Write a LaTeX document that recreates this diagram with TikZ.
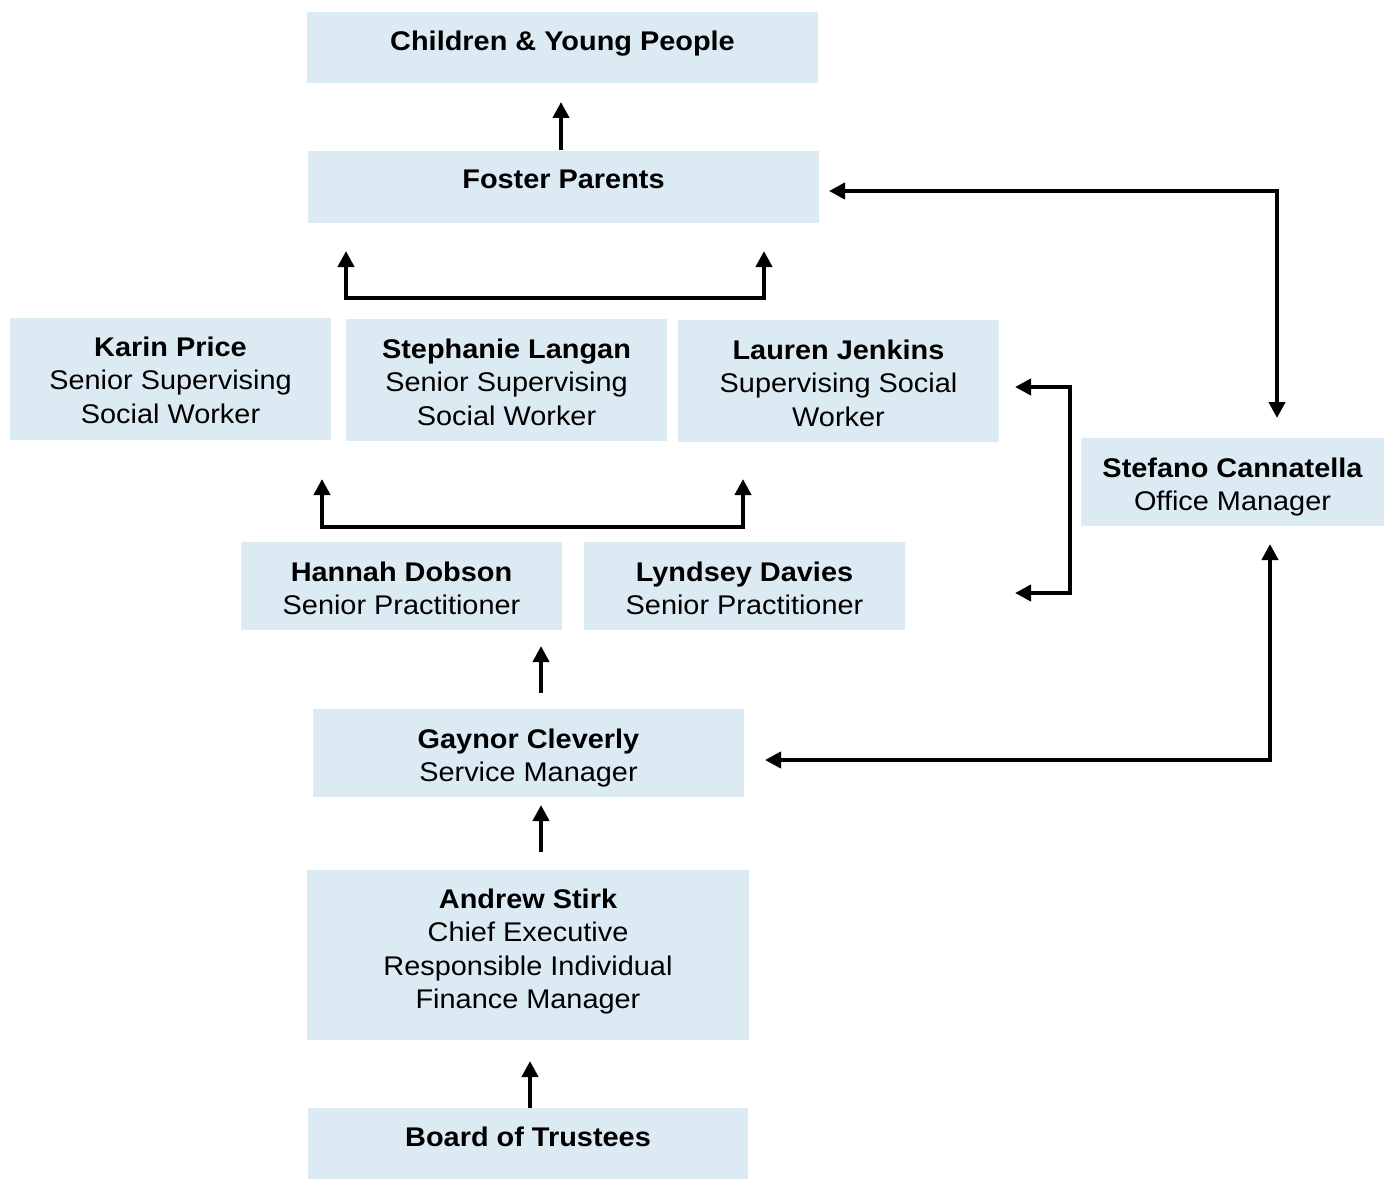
\documentclass[tikz,border=0pt]{standalone}
\usepackage{fontspec}
\setmainfont[FakeStretch=1.07]{Liberation Sans}
\usetikzlibrary{arrows.meta}
\definecolor{boxfill}{RGB}{220,234,243}
\tikzset{
  orgbox/.style={fill=boxfill, draw=none, inner sep=0pt},
  orgtext/.style={anchor=north, inner sep=0pt, align=center,
    font=\fontsize{27pt}{33.5pt}\selectfont},
  link/.style={line width=4.4pt, -{Triangle[length=16pt,width=16pt]}},
  dlink/.style={line width=4.4pt, {Triangle[length=16pt,width=16pt]}-{Triangle[length=16pt,width=16pt]}}
}
\begin{document}
\begin{tikzpicture}[x=1pt,y=-1pt]
\useasboundingbox (0,0) rectangle (1384,1180);
% boxes
\node[orgbox, minimum width=511pt, minimum height=71pt] (cyp) at (562.5,47.5) {};
\node[orgbox, minimum width=511pt, minimum height=72pt] (fp) at (563.5,187) {};
\node[orgbox, minimum width=321pt, minimum height=122pt] (kp) at (170.5,379) {};
\node[orgbox, minimum width=321pt, minimum height=122pt] (sl) at (506.5,380) {};
\node[orgbox, minimum width=321pt, minimum height=122pt] (lj) at (838.5,381) {};
\node[orgbox, minimum width=303pt, minimum height=88pt] (sc) at (1232.5,482) {};
\node[orgbox, minimum width=321pt, minimum height=88pt] (hd) at (401.5,586) {};
\node[orgbox, minimum width=321pt, minimum height=88pt] (ld) at (744.5,586) {};
\node[orgbox, minimum width=431pt, minimum height=88pt] (gc) at (528.5,753) {};
\node[orgbox, minimum width=442pt, minimum height=170pt] (as) at (528,955) {};
\node[orgbox, minimum width=440pt, minimum height=71pt] (bt) at (528,1143.5) {};
% texts
\node[orgtext] (cypt) at (562.5,30.7) {\bfseries Children \& Young People};
\node[orgtext] (fpt) at (563.5,169.7) {\bfseries Foster Parents};
\node[orgtext] (kpt) at (170.5,336.7) {\bfseries Karin Price\\Senior Supervising\\Social Worker};
\node[orgtext] (slt) at (506.5,338.7) {\bfseries Stephanie Langan\\Senior Supervising\\Social Worker};
\node[orgtext] (ljt) at (838.5,339.7) {\bfseries Lauren Jenkins\\Supervising Social\\Worker};
\node[orgtext] (sct) at (1232.5,457.7) {\bfseries Stefano Cannatella\\Office Manager};
\node[orgtext] (hdt) at (401.5,561.7) {\bfseries Hannah Dobson\\Senior Practitioner};
\node[orgtext] (ldt) at (744.5,561.7) {\bfseries Lyndsey Davies\\Senior Practitioner};
\node[orgtext] (gct) at (528.5,728.7) {\bfseries Gaynor Cleverly\\Service Manager};
\node[orgtext] (ast) at (528,888.7) {\bfseries Andrew Stirk\\Chief Executive\\Responsible Individual\\Finance Manager};
\node[orgtext] (btt) at (528,1126.7) {\bfseries Board of Trustees};
% connector coordinates
\coordinate (c1s) at (561,150);  \coordinate (c1e) at (561,102);
\coordinate (b1lt) at (346,251); \coordinate (b1l) at (346,298);
\coordinate (b1r) at (764,298);  \coordinate (b1rt) at (764,251);
\coordinate (b2lt) at (322,479); \coordinate (b2l) at (322,527);
\coordinate (b2r) at (743,527);  \coordinate (b2rt) at (743,479);
\coordinate (c3s) at (541,693);  \coordinate (c3e) at (541,646);
\coordinate (c4s) at (541,852);  \coordinate (c4e) at (541,805);
\coordinate (c5e) at (530,1061);
\coordinate (fpa) at (829,191);  \coordinate (fpc) at (1277,191); \coordinate (sca) at (1277,418);
\coordinate (rba) at (1015,387); \coordinate (rbt) at (1070,387);
\coordinate (rbb) at (1070,593); \coordinate (rbc) at (1015,593);
\coordinate (gca) at (765,760);  \coordinate (gcc) at (1270,760); \coordinate (scb) at (1270,544);
% connectors
\draw[link] (c1s) -- (c1e);
\draw[dlink] (b1lt) -- (b1l) -- (b1r) -- (b1rt);
\draw[dlink] (b2lt) -- (b2l) -- (b2r) -- (b2rt);
\draw[link] (c3s) -- (c3e);
\draw[link] (c4s) -- (c4e);
\draw[link] (bt.north -| c5e) -- (c5e);
\draw[dlink] (fpa) -- (fpc) -- (sca);
\draw[dlink] (rba) -- (rbt) -- (rbb) -- (rbc);
\draw[dlink] (gca) -- (gcc) -- (scb);
\end{tikzpicture}
\end{document}
